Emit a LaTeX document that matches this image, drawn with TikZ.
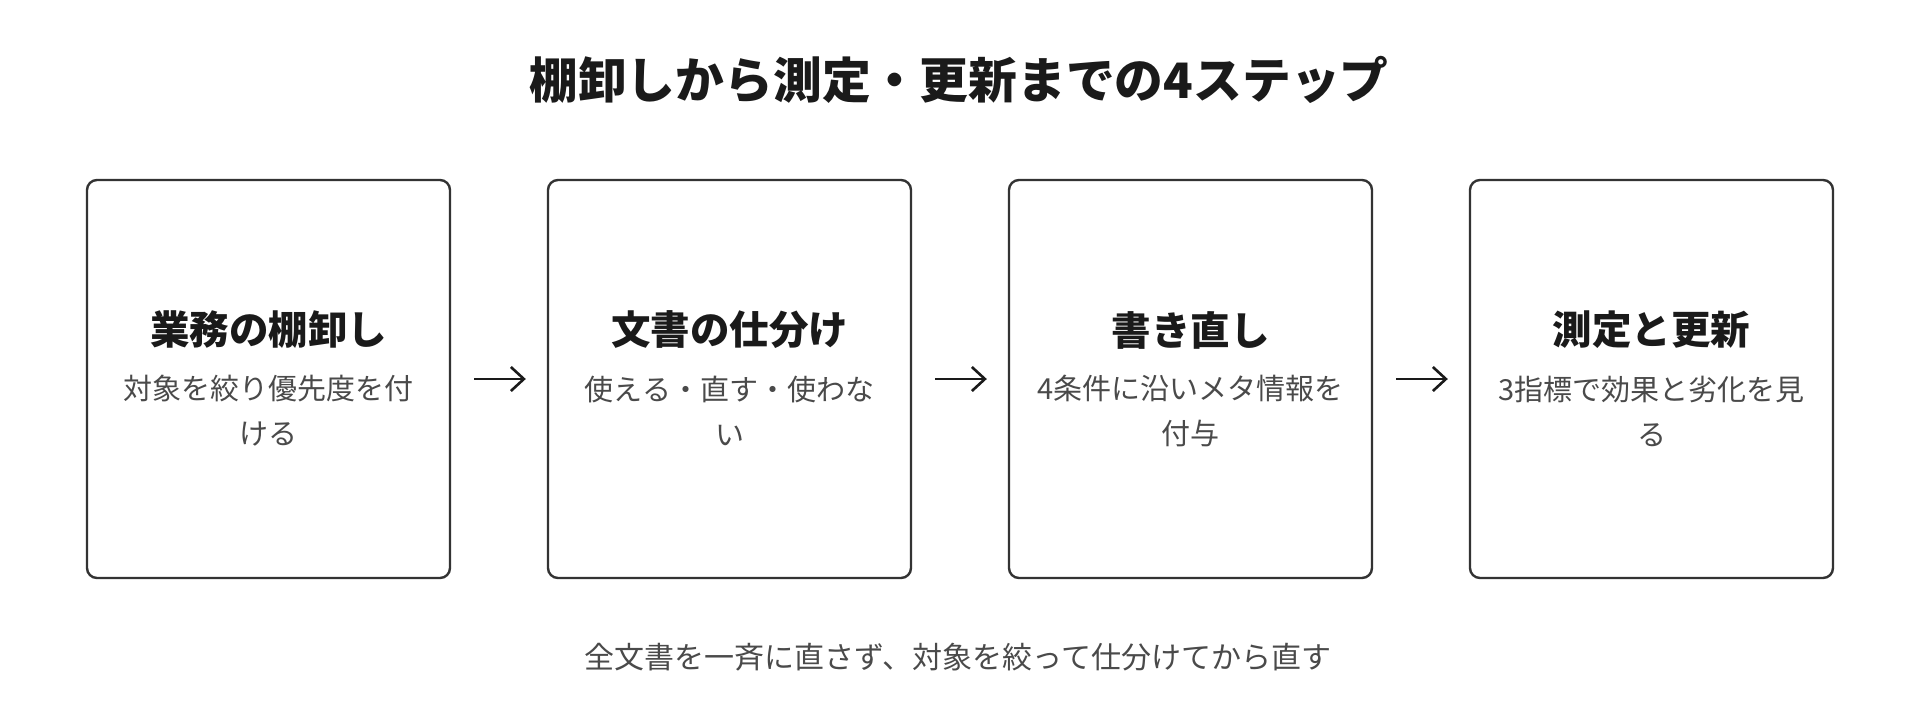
\documentclass[tikz,border=0pt]{standalone}
\usepackage{fontspec}
\setmainfont{Noto Sans CJK JP}
\usetikzlibrary{arrows.meta}
\definecolor{ink}{HTML}{1A1A1A}
\definecolor{boxline}{HTML}{333333}
\definecolor{subink}{HTML}{4A4A4A}
\tikzset{
  stepbox/.style={draw=boxline, line width=2.4pt, rounded corners=10pt, minimum width=363pt, minimum height=398pt, inner sep=0pt},
  headtext/.style={inner sep=0pt, text=ink, font=\fontsize{39.5}{46}\selectfont\bfseries},
  subtext/.style={inner sep=0pt, text=subink, align=center, font=\fontsize{29}{45}\selectfont},
  flow/.style={draw=ink, line width=2.6pt, -{Straight Barb[length=13pt,width=24pt]}, shorten <=23pt, shorten >=21pt},
}
\begin{document}
\begin{tikzpicture}[x=1pt,y=-1pt]
\useasboundingbox (0,0) rectangle (1920,715);
\fill[white] (0,0) rectangle (1920,715);
\node[inner sep=0pt, text=ink, font=\fontsize{48.8}{58}\selectfont\bfseries] (title) at (959,80) {棚卸しから測定・更新までの4ステップ};

\node[stepbox] (b1) at (268.5,379) {};
\node[stepbox] (b2) at (729.5,379) {};
\node[stepbox] (b3) at (1190.5,379) {};
\node[stepbox] (b4) at (1651.5,379) {};

\node[headtext] (h1) at (268.5,330) {業務の棚卸し};
\node[headtext] (h2) at (729.5,330) {文書の仕分け};
\node[headtext] (h3) at (1190.5,330) {書き直し};
\node[headtext] (h4) at (1651.5,330) {測定と更新};

\node[subtext] (s1) at (268.5,411) {対象を絞り優先度を付\\ける};
\node[subtext] (s2) at (729.5,411) {使える・直す・使わな\\い};
\node[subtext] (s3) at (1190.5,411) {4条件に沿いメタ情報を\\付与};
\node[subtext] (s4) at (1651.5,411) {3指標で効果と劣化を見\\る};

\draw[flow] (b1.east) -- (b2.west);
\draw[flow] (b2.east) -- (b3.west);
\draw[flow] (b3.east) -- (b4.west);

\node[inner sep=0pt, text=subink, font=\fontsize{30}{36}\selectfont] (note) at (958,657) {全文書を一斉に直さず、対象を絞って仕分けてから直す};
\end{tikzpicture}
\end{document}
